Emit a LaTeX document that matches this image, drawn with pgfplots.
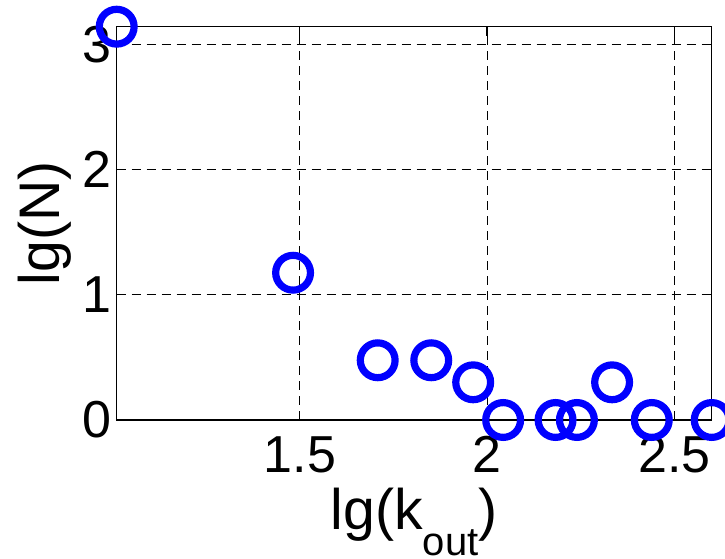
\documentclass[border=0pt]{standalone}
\usepackage{pgfplots}
\pgfplotsset{compat=1.18}
\usepackage{fontspec}
\setmainfont{Liberation Sans}

\begin{document}
\begin{tikzpicture}
\begin{axis}[
  scale only axis,
  width=297.5pt, height=196.65pt,
  xmin=1.011, xmax=2.600,
  ymin=0, ymax=3.141,
  xtick={1.5,2,2.5},
  ytick={0,1,2,3},
  /pgf/number format/assume math mode=true,
  tick align=inside,
  major tick length=4.5pt,
  tick style={black, line width=0.6pt},
  axis line style={black, line width=0.7pt},
  grid=major,
  major grid style={black, line width=0.5pt, dash pattern=on 4.5pt off 3pt},
  ticklabel style={font=\fontsize{26}{28}\selectfont},
  xticklabel style={anchor=north, inner sep=0pt, yshift=-8pt},
  yticklabel style={anchor=east, inner sep=0pt, xshift=-2.35pt},
  xlabel={lg(k\raisebox{-13pt}{\fontsize{20}{22}\selectfont out})},
  ylabel={lg(N)},
  label style={font=\fontsize{28.6}{30}\selectfont},
  xlabel style={at={(axis description cs:0.5,0)}, anchor=base, inner sep=0pt, yshift=-55pt},
  ylabel style={at={(axis description cs:0,0.5)}, rotate=0, anchor=base, inner sep=0pt, yshift=28.35pt},
  clip=false,
]
\addplot[only marks, mark=o, mark size=8.7pt,
  mark options={draw={rgb,255:red,0;green,0;blue,255}, line width=3.6pt}]
  coordinates {
    (1.011,3.141)
    (1.482,1.176)
    (1.708,0.477)
    (1.851,0.477)
    (1.963,0.301)
    (2.043,0)
    (2.183,0)
    (2.240,0)
    (2.334,0.301)
    (2.440,0)
    (2.600,0)
  };
\coordinate (bl) at (rel axis cs:0,0);
\coordinate (tr) at (rel axis cs:1,1);
\end{axis}
\pgfresetboundingbox
\path[use as bounding box] ([shift={(-58.35pt,-69.5pt)}]bl) rectangle ([shift={(6.65pt,13.35pt)}]tr);
\end{tikzpicture}
\end{document}
